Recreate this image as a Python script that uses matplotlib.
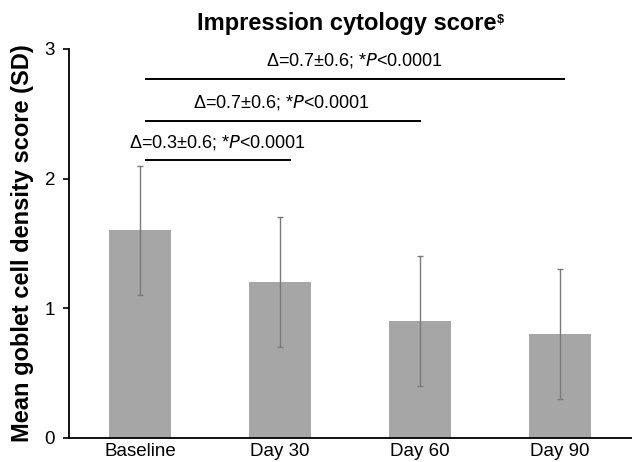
import numpy as np
import matplotlib
matplotlib.use("Agg")
import matplotlib.pyplot as plt

plt.rcParams['font.family'] = ['Liberation Sans', 'DejaVu Sans']

# Data
categories = ['Baseline', 'Day 30', 'Day 60', 'Day 90']
means = [1.6, 1.2, 0.9, 0.8]
sds = [0.5, 0.5, 0.5, 0.5]

# comparisons from Baseline: bracket end, bracket height, label x, label
comp_ends = [1.076, 2.005, 3.036]
comp_heights = [2.14, 2.445, 2.77]
comp_text_x = [0.55, 1.01, 1.53]
comp_labels = ['Δ=0.3±0.6; *$\\it{P}$<0.0001',
               'Δ=0.7±0.6; *$\\it{P}$<0.0001',
               'Δ=0.7±0.6; *$\\it{P}$<0.0001']

fig = plt.figure(figsize=(6.32, 4.62), dpi=100)
ax = fig.add_axes([0.1092, 0.0526, 0.8908, 0.8414])

x = np.arange(len(categories))
ax.bar(x, means, width=0.44, color='#a6a6a6', zorder=1)
ax.errorbar(x, means, yerr=sds, fmt='none', ecolor='#7a7a7a',
            elinewidth=1.0, capsize=2.5, capthick=1.0, zorder=2)

# Comparison brackets
for end, h, tx, lab in zip(comp_ends, comp_heights, comp_text_x, comp_labels):
    ax.plot([0.036, end], [h, h], color='black', lw=1.4,
            solid_capstyle='butt', zorder=3)
    ax.text(tx, h + 0.065, lab, ha='center', va='bottom', fontsize=13)

ax.set_xlim(-0.507, 3.514)
ax.set_ylim(0, 3)
ax.set_yticks([0, 1, 2, 3])
ax.set_xticks(x)
ax.set_xticklabels(categories, fontsize=13.5)
ax.tick_params(axis='x', length=0, pad=4)
ax.tick_params(axis='y', length=4, width=1.2, labelsize=13.5, pad=6)

ax.spines['top'].set_visible(False)
ax.spines['right'].set_visible(False)
ax.spines['left'].set_linewidth(1.3)
ax.spines['bottom'].set_linewidth(1.3)

ax.set_ylabel('Mean goblet cell density score (SD)', fontsize=17,
              fontweight='bold', va='center')
ax.yaxis.set_label_coords(-0.0835, 0.5)

# Title with a small superscript "$"
title = fig.text(0.548, 0.950, 'Impression cytology score',
                 ha='center', va='center', fontsize=17, fontweight='bold')
fig.canvas.draw()
bb = title.get_window_extent()
fig.text((bb.x1 + 1) / fig.bbox.width, (bb.y1 - 2) / fig.bbox.height, '$',
         ha='left', va='top', fontsize=9, fontweight='bold')

fig.savefig('out.png', dpi=100)
